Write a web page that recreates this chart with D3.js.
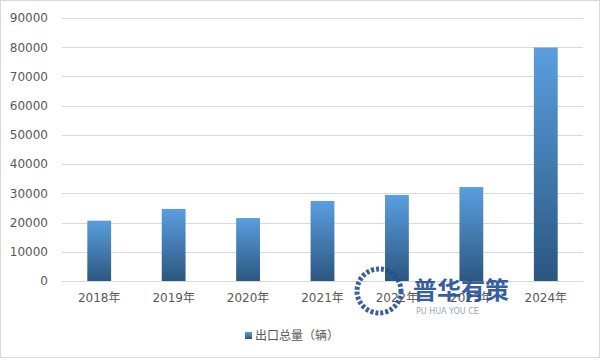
<!DOCTYPE html>
<html><head><meta charset="utf-8">
<script src="https://cdn.jsdelivr.net/npm/d3@7"></script>
<style>body{margin:0;background:#fff}svg{display:block}</style>
</head><body>
<script>
const categories = ["2018年","2019年","2020年","2021年","2022年","2023年","2024年"];
const values = [20650, 24650, 21550, 27400, 29450, 32150, 79900];
const yTicks = [0,10000,20000,30000,40000,50000,60000,70000,80000,90000];
const seriesName = "出口总量（辆）";

const W=600,H=360;
const svg=d3.select("body").append("svg").attr("width",W).attr("height",H);
svg.append("rect").attr("x",0.5).attr("y",0.5).attr("width",W-1).attr("height",H-3)
  .attr("fill","#fff").attr("stroke","#d9d9d9");
const defs=svg.append("defs");
const g=defs.append("linearGradient").attr("id","bg").attr("x1",0).attr("y1",0).attr("x2",0).attr("y2",1);
g.append("stop").attr("offset","0%").attr("stop-color","#5a9ee0");
g.append("stop").attr("offset","100%").attr("stop-color","#2b5780");

const x=d3.scaleBand().domain(categories).range([62,583]).paddingInner(0.68).paddingOuter(0.34);
const y=d3.scaleLinear().domain([0,90000]).range([281,18]);

const grid=svg.append("g");
grid.selectAll("line").data(yTicks).join("line")
  .attr("x1",62).attr("x2",583).attr("y1",d=>Math.round(y(d))+0.5).attr("y2",d=>Math.round(y(d))+0.5)
  .attr("stroke","#d9d9d9");

const yAxis=svg.append("g").attr("transform","translate(62,0)")
  .call(d3.axisLeft(y).tickValues(yTicks).tickFormat(d3.format("d")).tickSize(0).tickPadding(14));
yAxis.select(".domain").remove();
yAxis.selectAll("text").attr("fill","#595959").style("font-family","'DejaVu Sans',sans-serif").style("font-size","12px");

svg.append("g").selectAll("rect").data(values).join("rect")
  .attr("x",(d,i)=>x(categories[i])).attr("width",x.bandwidth())
  .attr("y",d=>y(d)).attr("height",d=>y(0)-y(d)).attr("fill","url(#bg)");

const xAxis=svg.append("g").attr("transform","translate(0,281)")
  .call(d3.axisBottom(x).tickSize(0).tickPadding(12));
xAxis.select(".domain").attr("stroke","#d9d9d9");
xAxis.selectAll("text").attr("fill","#595959").style("font-family","'DejaVu Sans','Noto Sans CJK SC',sans-serif").style("font-size","12px");

// watermark
const wm=svg.append("g").attr("opacity",0.9);
wm.append("circle").attr("cx",379).attr("cy",291).attr("r",22).attr("fill","none").attr("stroke","#1f4e9c").attr("stroke-width",5).attr("stroke-dasharray","3 2");
wm.append("text").attr("x",413).attr("y",299).text("普华有策").attr("fill","#1f4e9c")
  .style("font-family","'Noto Sans CJK SC',sans-serif").style("font-size","24px").style("font-weight","bold");
wm.append("text").attr("x",416).attr("y",314).text("PU HUA YOU CE").attr("fill","#8aa0c0")
  .style("font-family","'DejaVu Sans',sans-serif").style("font-size","8px");

// legend
const lg=svg.append("g");
lg.append("rect").attr("x",245).attr("y",332).attr("width",7).attr("height",7).attr("fill","url(#bg)");
lg.append("text").attr("x",255).attr("y",340).text(seriesName).attr("fill","#595959")
  .style("font-family","'Noto Sans CJK SC',sans-serif").style("font-size","12px");
</script>
</body></html>
